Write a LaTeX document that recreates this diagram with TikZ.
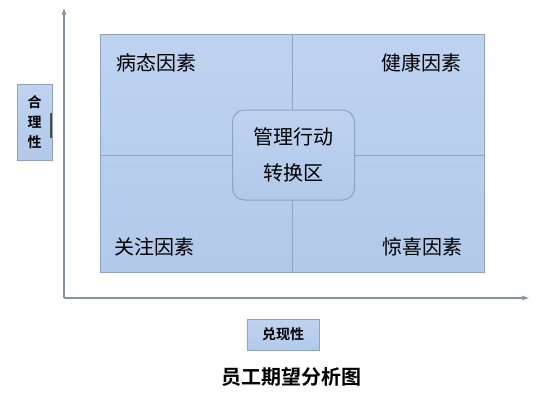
\documentclass[tikz,border=0pt]{standalone}
\usepackage{fontspec}
\newfontfamily\cjk{Noto Sans CJK SC}
\newfontfamily\cjkb{Noto Sans CJK SC Bold}
\begin{document}
\begin{tikzpicture}[x=1pt,y=-1pt,
  axis/.style={draw=axisc,line width=1.3pt,-latex},
  panel/.style={draw=edgec,line width=1pt,top color=fillA,bottom color=fillB},
  lbl/.style={font=\cjk\fontsize{20}{22}\selectfont,text=black},
  divline/.style={draw=edgec,line width=0.8pt}]
\definecolor{axisc}{RGB}{132,146,170}
\definecolor{edgec}{RGB}{140,163,196}
\definecolor{fillA}{RGB}{190,211,240}
\definecolor{fillB}{RGB}{178,201,234}
\useasboundingbox (0,0) rectangle (545,401);
\fill[white] (0,0) rectangle (545,401);
% axes
\coordinate (o) at (64,298);
\coordinate (ytip) at (64,8);
\coordinate (xtip) at (529,298);
\draw[axis] (o) -- (ytip);
\draw[axis] (o) -- (xtip);
% main panel
\node[panel,minimum width=384,minimum height=238,inner sep=0,anchor=north west] (main) at (100,34) {};
\coordinate (vt) at (292,34);
\coordinate (vb) at (292,272);
\coordinate (hl) at (100,155);
\coordinate (hr) at (484,155);
\draw[divline] (vt) -- (vb);
\draw[divline] (hl) -- (hr);
% center box
\node[panel,rounded corners=12pt,minimum width=122,minimum height=90,inner sep=0,align=center,font=\cjk\fontsize{20}{36}\selectfont] (center) at (293.5,155) {管理行动\\转换区};
% quadrant labels
\node[lbl] (q1) at (156,63) {病态因素};
\node[lbl] (q2) at (421,63) {健康因素};
\node[lbl] (q3) at (154,247) {关注因素};
\node[lbl] (q4) at (422,247) {惊喜因素};
% side labels
\node[panel,minimum width=35,minimum height=75,inner sep=0,align=center,font=\cjkb\fontsize{14}{20}\selectfont] (yl) at (34.5,122.5) {合\\理\\性};
\coordinate (mk1) at (51,113);
\coordinate (mk2) at (51,138);
\draw[black!70,line width=1.5pt] (mk1) -- (mk2);
\node[panel,minimum width=72,minimum height=31,inner sep=0,font=\cjkb\fontsize{14}{16}\selectfont] (xl) at (283,334.5) {兑现性};
% title
\node[font=\cjkb\fontsize{20}{22}\selectfont] (title) at (291,377) {员工期望分析图};
\end{tikzpicture}
\end{document}
